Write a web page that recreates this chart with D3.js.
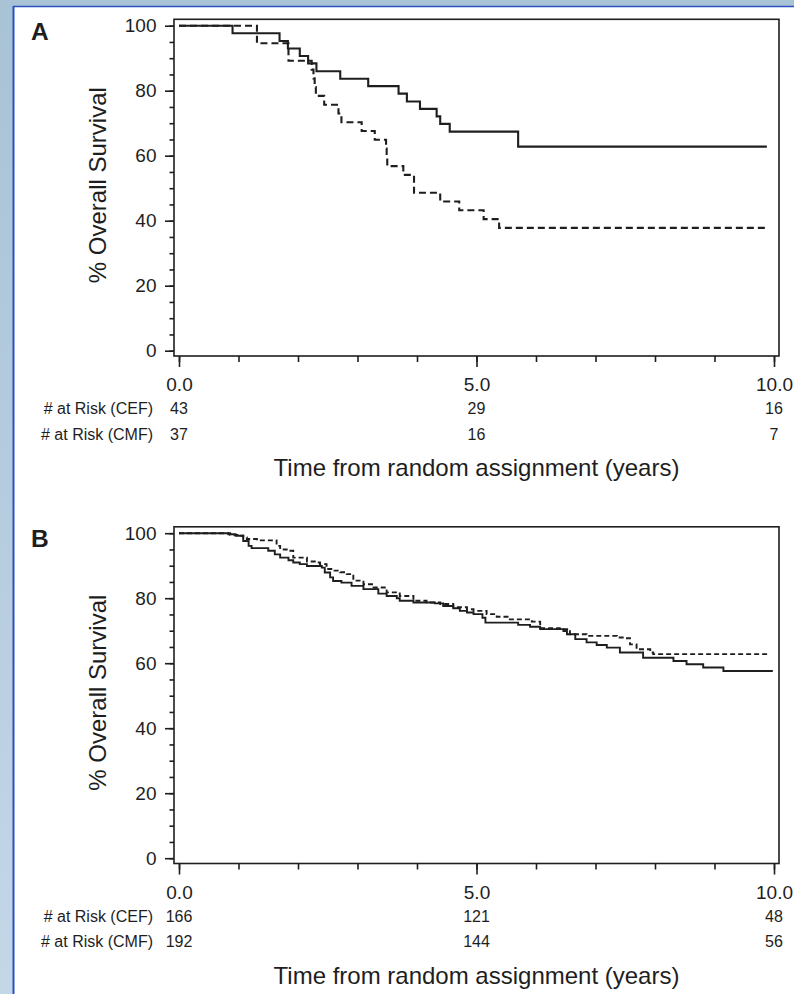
<!DOCTYPE html>
<html><head><meta charset="utf-8">
<script src="https://cdn.jsdelivr.net/npm/d3@7"></script>
<style>
body{margin:0;background:#fff}
svg{display:block}
text{font-family:"Liberation Sans",Arial,Helvetica,sans-serif;fill:#1e1e1e}
</style>
</head><body>
<svg id="chart" width="794" height="994"></svg>
<script>
// ---------- data ----------
const panelLabels = ["A", "B"];
const xMajorTicks = [0, 5, 10];
const xMajorLabels = ["0.0", "5.0", "10.0"];
const xMinorTicks = [0,1,2,3,4,5,6,7,8,9,10];
const yMajorTicks = [0, 20, 40, 60, 80, 100];
const yMinorTicks = [0,5,10,15,20,25,30,35,40,45,50,55,60,65,70,75,80,85,90,95,100];
const riskTimes = [0, 5, 10];
const riskRowLabels = ["# at Risk (CEF)", "# at Risk (CMF)"];
const riskA_CEF = [43, 29, 16];
const riskA_CMF = [37, 16, 7];
const riskB_CEF = [166, 121, 48];
const riskB_CMF = [192, 144, 56];
const yTitle = "% Overall Survival";
const xTitle = "Time from random assignment (years)";

// Panel A, CEF (solid)
const A_cef_time = [0, 0.90, 1.69, 1.83, 2.03, 2.17, 2.31, 2.71, 3.18, 3.69, 3.83, 4.05, 4.33, 4.39, 4.55, 5.70, 9.88];
const A_cef_surv = [100, 97.7, 95.3, 93.0, 90.7, 88.4, 86.0, 83.7, 81.4, 79.1, 76.7, 74.4, 72.1, 69.8, 67.4, 62.8, 62.8];
// Panel A, CMF (dashed)
const A_cmf_time = [0, 1.31, 1.84, 2.23, 2.26, 2.28, 2.30, 2.44, 2.68, 2.73, 3.07, 3.29, 3.48, 3.49, 3.50, 3.77, 3.95, 4.39, 4.71, 5.12, 5.38, 9.88];
const A_cmf_surv = [100, 94.6, 89.2, 86.5, 83.8, 81.1, 78.4, 75.7, 73.0, 70.3, 67.6, 64.9, 62.2, 59.5, 56.8, 54.1, 48.6, 45.9, 43.2, 40.5, 37.8, 37.8];
// Panel B, CEF (solid)
const B_cef_time = [0,0.83,0.95,1.08,1.17,1.22,1.50,1.61,1.70,1.84,1.92,2.03,2.15,2.40,2.45,2.54,2.59,2.73,2.90,3.10,3.35,3.49,3.66,3.71,3.94,4.30,4.44,4.61,4.72,4.84,4.95,5.10,5.15,5.70,5.90,6.07,6.46,6.52,6.66,6.85,7.02,7.19,7.41,7.80,8.31,8.53,8.81,9.15,9.98];
const B_cef_surv = [100,99.7,99.2,97.6,96.1,95.4,94.6,93.5,92.5,91.7,91.0,90.5,89.9,89.4,87.9,86.4,85.3,84.8,83.8,82.8,81.4,80.7,80.0,79.2,78.7,78.4,77.6,76.9,76.1,75.6,75.1,74.0,72.5,71.8,71.2,70.5,69.9,68.9,67.4,66.4,65.6,64.8,63.3,61.7,60.7,59.7,58.7,57.6,57.6];
// Panel B, CMF (dashed)
const B_cmf_time = [0,0.86,1.03,1.08,1.14,1.31,1.64,1.70,1.81,1.92,2.15,2.31,2.37,2.48,2.59,2.71,2.82,2.93,3.10,3.27,3.49,3.71,3.94,4.16,4.39,4.61,4.84,4.95,5.17,5.34,5.56,5.93,6.07,6.40,6.57,6.85,7.36,7.50,7.58,7.69,7.92,7.97,9.93];
const B_cmf_surv = [100,99.5,99.2,98.7,98.2,97.8,96.1,95.0,94.6,92.5,91.3,91.0,90.5,89.0,88.5,88.0,87.4,85.4,84.3,83.3,81.8,80.7,79.2,78.7,78.2,77.2,76.6,76.1,75.1,74.3,73.5,72.8,70.8,70.5,68.9,68.4,67.9,67.7,65.8,64.3,63.3,62.8,62.8];

// ---------- drawing ----------
const svg = d3.select("#chart");
const defs = svg.append("defs");
const grad = defs.append("linearGradient").attr("id", "bg").attr("x1", 0).attr("y1", 0).attr("x2", 0).attr("y2", 1);
grad.append("stop").attr("offset", "0%").attr("stop-color", "#a8c2d6");
grad.append("stop").attr("offset", "100%").attr("stop-color", "#c3d7e7");
svg.append("rect").attr("width", 794).attr("height", 994).attr("fill", "url(#bg)");
svg.append("rect").attr("x", 14).attr("y", 7).attr("width", 780).attr("height", 987).attr("fill", "#fff");
svg.append("line").attr("x1", 13.5).attr("y1", 6).attr("x2", 13.5).attr("y2", 994).attr("stroke", "#2b50c2").attr("stroke-width", 2);
svg.append("line").attr("x1", 13).attr("y1", 6.5).attr("x2", 794).attr("y2", 6.5).attr("stroke", "#2b50c2").attr("stroke-width", 1.5);

const x = d3.scaleLinear().domain([0, 10]).range([179, 774]);

const panels = [
  {label: panelLabels[0], dy: 0, cefT: A_cef_time, cefS: A_cef_surv, cmfT: A_cmf_time, cmfS: A_cmf_surv, riskCEF: riskA_CEF, riskCMF: riskA_CMF, lw: 2.1, dash: "7,4"},
  {label: panelLabels[1], dy: 507.5, cefT: B_cef_time, cefS: B_cef_surv, cmfT: B_cmf_time, cmfS: B_cmf_surv, riskCEF: riskB_CEF, riskCMF: riskB_CMF, lw: 1.9, dash: "5,3"}
];

const ink = "#1e1e1e";

panels.forEach(p => {
  const g = svg.append("g").attr("transform", `translate(0,${p.dy})`);
  const y = d3.scaleLinear().domain([0, 100]).range([350.7, 25.7]);
  const frameL = x(0) - 5, frameR = x(10) + 5, frameT = y(100) - 6.4, frameB = y(0) + 5.3;

  // frame
  g.append("rect").attr("x", frameL).attr("y", frameT).attr("width", frameR - frameL).attr("height", frameB - frameT)
    .attr("fill", "none").attr("stroke", ink).attr("stroke-width", 1.6);

  // y axis ticks
  const yMinor = g.append("g").attr("transform", `translate(${frameL},0)`)
    .call(d3.axisLeft(y).tickValues(yMinorTicks).tickSize(4.5).tickFormat(""));
  const yMajor = g.append("g").attr("transform", `translate(${frameL},0)`)
    .call(d3.axisLeft(y).tickValues(yMajorTicks).tickSize(9).tickPadding(8.5).tickFormat(d3.format("d")));
  // x axis ticks
  const xMinor = g.append("g").attr("transform", `translate(0,${frameB})`)
    .call(d3.axisBottom(x).tickValues(xMinorTicks).tickSize(6).tickFormat(""));
  const xMajor = g.append("g").attr("transform", `translate(0,${frameB})`)
    .call(d3.axisBottom(x).tickValues(xMajorTicks).tickSize(11).tickPadding(11).tickFormat((d, i) => xMajorLabels[i]));
  [yMinor, yMajor, xMinor, xMajor].forEach(a => {
    a.select(".domain").remove();
    a.selectAll(".tick line").attr("stroke", ink).attr("stroke-width", 1.6);
    a.selectAll(".tick text").attr("fill", "#2a2a2a").style("font-size", "19px")
      .style("font-family", '"Liberation Sans",Arial,sans-serif');
  });

  // survival curves
  const line = d3.line().x(d => x(d[0])).y(d => y(d[1])).curve(d3.curveStepAfter);
  const cef = p.cefT.map((t, i) => [t, p.cefS[i]]);
  const cmf = p.cmfT.map((t, i) => [t, p.cmfS[i]]);
  g.append("path").attr("d", line(cmf)).attr("fill", "none").attr("stroke", ink)
    .attr("stroke-width", p.lw).attr("stroke-dasharray", p.dash);
  g.append("path").attr("d", line(cef)).attr("fill", "none").attr("stroke", ink)
    .attr("stroke-width", p.lw);

  // panel label
  g.append("text").attr("x", 31).attr("y", 39.5).text(p.label)
    .style("font-size", "24.5px").style("font-weight", "bold");

  // y title
  g.append("text").attr("transform", `translate(106,${(y(0) + y(100)) / 2 - 3}) rotate(-90)`)
    .attr("text-anchor", "middle").style("font-size", "24px").text(yTitle);

  // at-risk table
  const rows = [p.riskCEF, p.riskCMF];
  const rowBase = [414, 439.5];
  rows.forEach((vals, r) => {
    g.append("text").attr("x", 153).attr("y", rowBase[r]).attr("text-anchor", "end")
      .style("font-size", "16px").text(riskRowLabels[r]);
    g.selectAll(null).data(vals).enter().append("text")
      .attr("x", (d, i) => x(riskTimes[i])).attr("y", rowBase[r]).attr("text-anchor", "middle")
      .style("font-size", "16px").text(d => d);
  });

  // x title
  g.append("text").attr("x", x(5)).attr("y", 476).attr("text-anchor", "middle")
    .style("font-size", "24px").text(xTitle);
});
</script>
</body></html>
